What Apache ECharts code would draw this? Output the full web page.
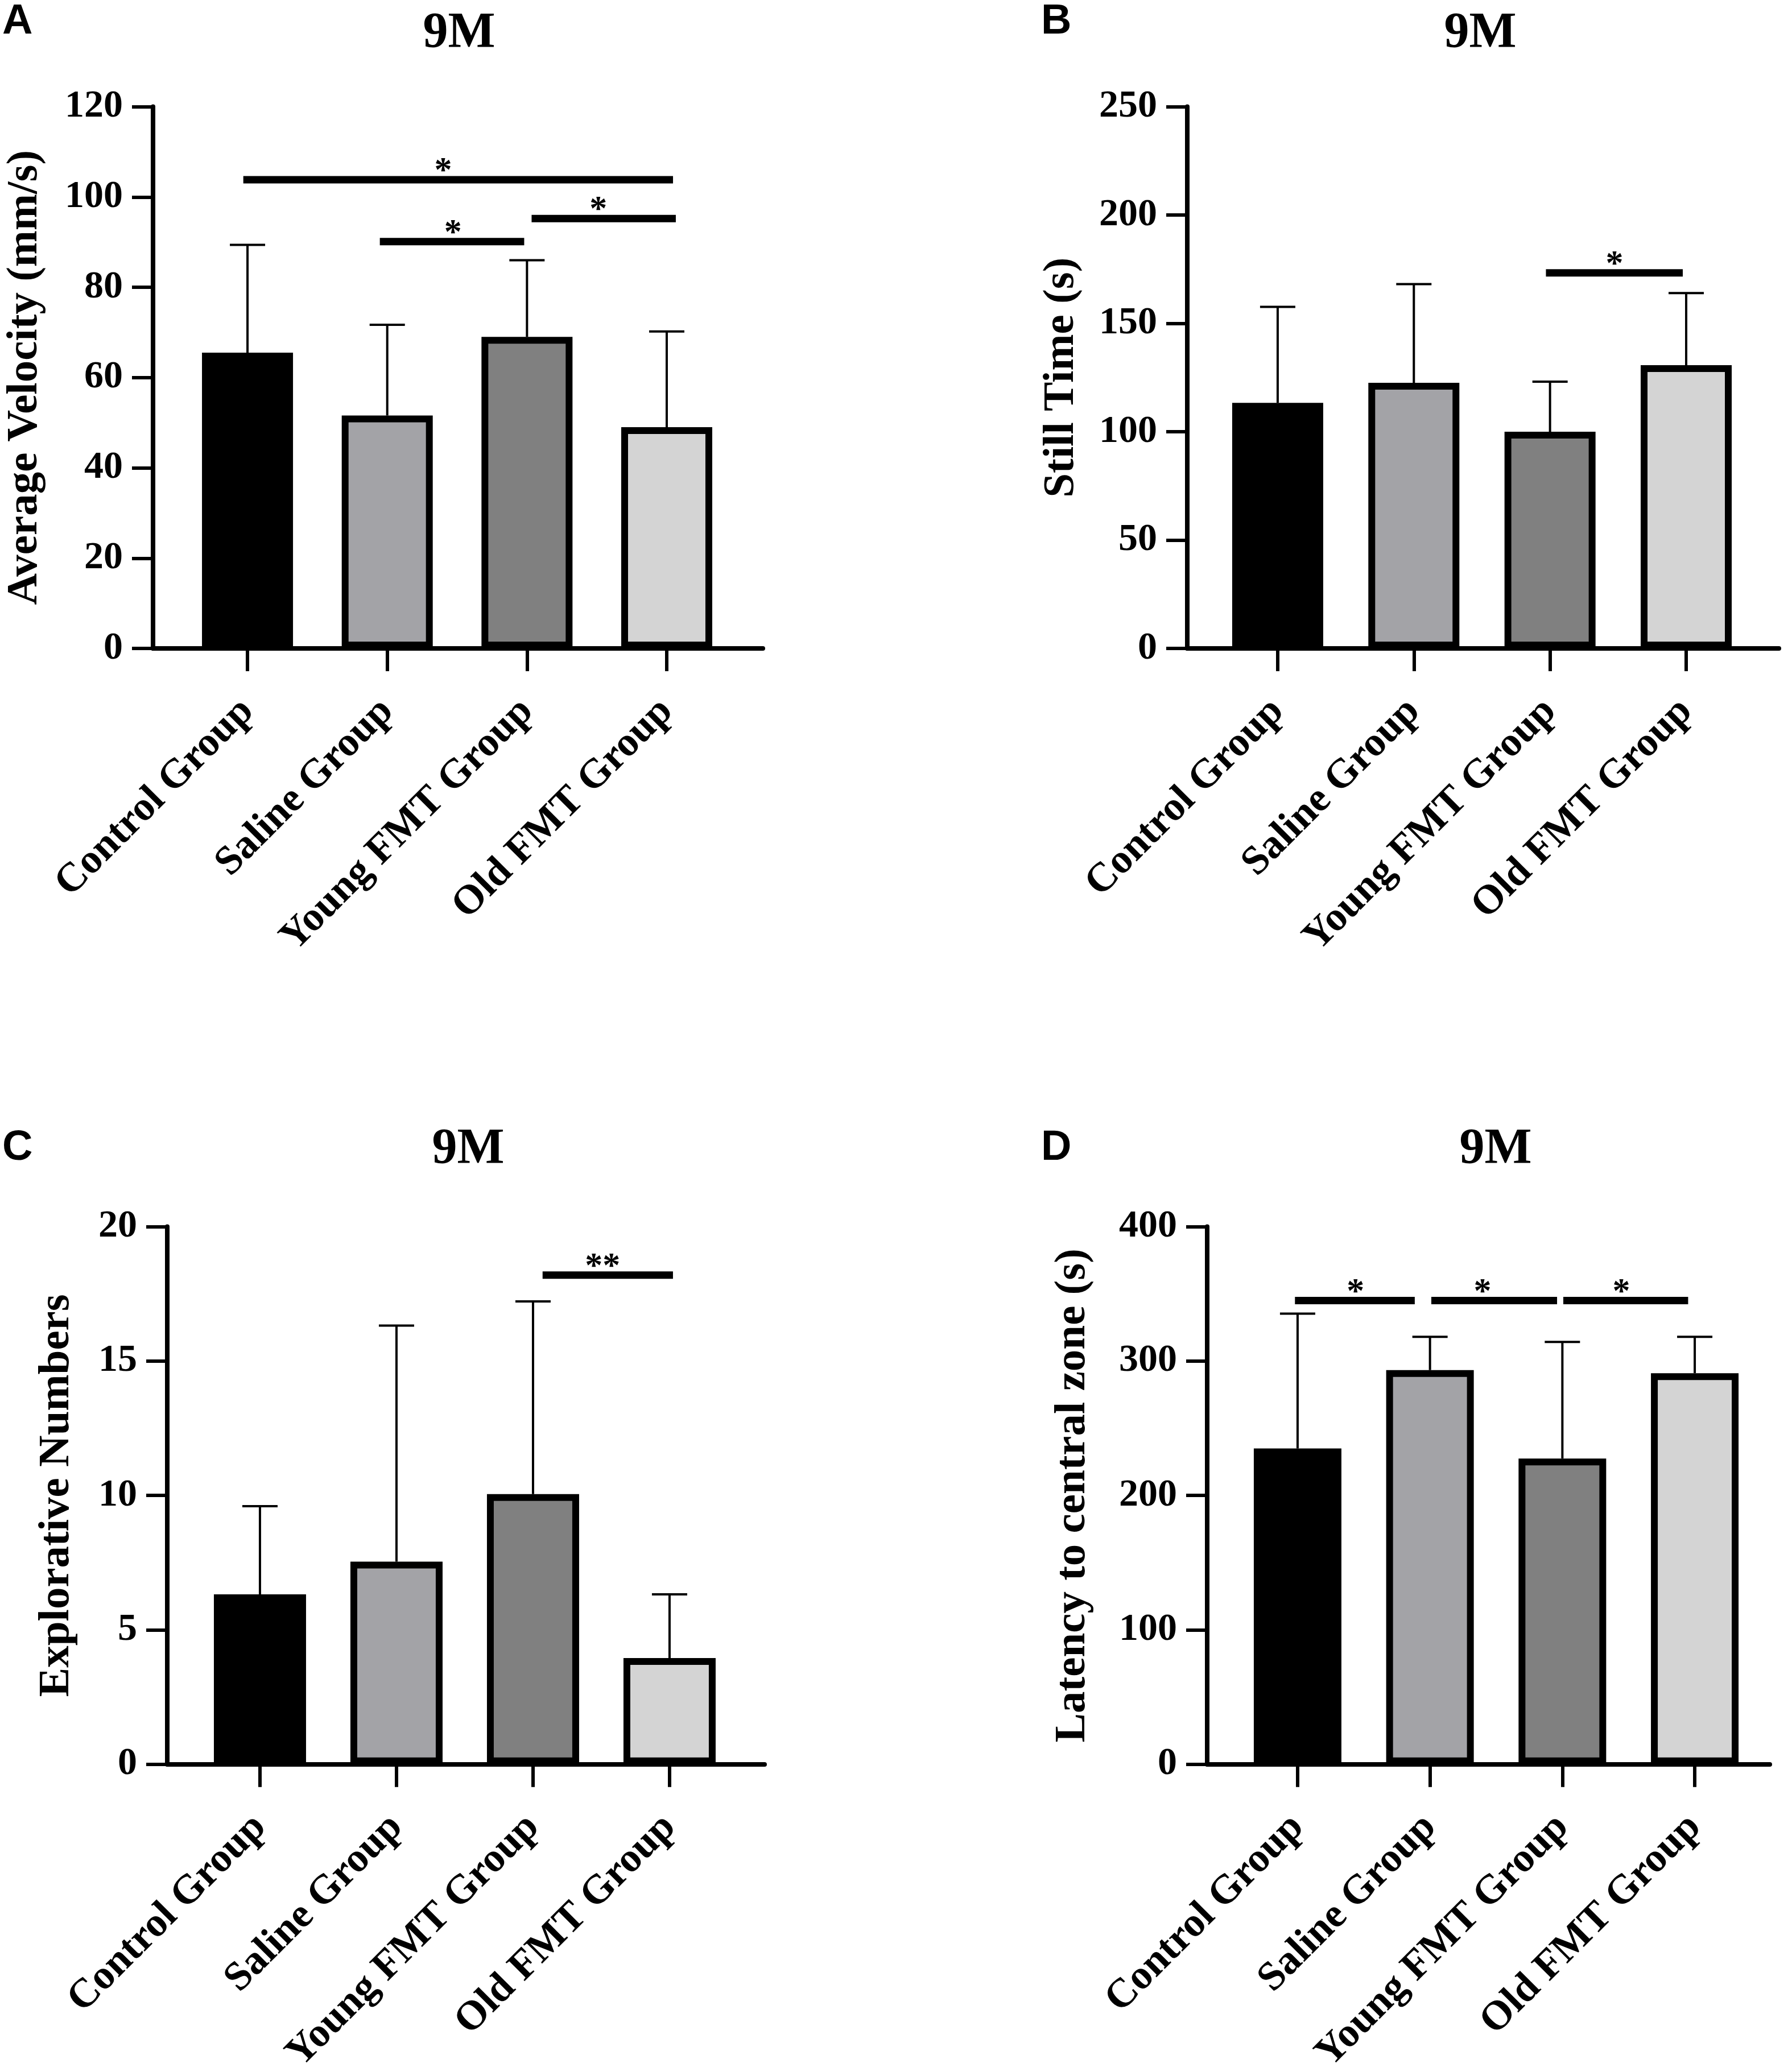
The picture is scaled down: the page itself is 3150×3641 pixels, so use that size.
<!DOCTYPE html>
<html>
<head>
<meta charset="utf-8">
<script src="https://cdn.jsdelivr.net/npm/echarts@6/dist/echarts.min.js"></script>
<style>
  html, body { margin: 0; padding: 0; background: #fff; }
  #chart { width: 3150px; height: 3641px; }
</style>
</head>
<body>
<div id="chart"></div>
<script>
// categories (same four groups in every panel)
var groups = ['Control Group', 'Saline Group', 'Young FMT Group', 'Old FMT Group'];

// A: average velocity (mm/s)
var velocityMean = [65.5, 51.6, 69.0, 49.0];
var velocitySdTop = [89.4, 71.7, 86.0, 70.2];
// B: still time (s)
var stillMean = [113.3, 122.6, 100.0, 130.7];
var stillSdTop = [157.6, 168.1, 123.1, 164.0];
// C: explorative numbers
var exploreMean = [6.32, 7.54, 10.05, 3.95];
var exploreSdTop = [9.60, 16.32, 17.22, 6.32];
// D: latency to central zone (s)
var latencyMean = [235.0, 293.3, 227.5, 291.0];
var latencySdTop = [335.3, 318.1, 314.2, 318.1];

// significance bars: [from, to, height, star position, text] (x in group index units)
var velocitySig = [[-0.03, 3.045, 103.8, 1.40, '*'], [0.947, 1.98, 90.1, 1.47, '*'], [2.033, 3.065, 95.2, 2.51, '*']];
var stillSig = [[1.97, 2.975, 173.3, 2.474, '*']];
var exploreSig = [[2.07, 3.025, 18.2, 2.51, '**']];
var latencySig = [[-0.02, 0.885, 345, 0.438, '*'], [1.01, 1.96, 345, 1.397, '*'], [2.007, 2.95, 345, 2.445, '*']];

// y axis scales: [max, interval]
var velocityAxis = [120, 20];
var stillAxis = [250, 50];
var exploreAxis = [20, 5];
var latencyAxis = [400, 100];

var barColors = ['#000000', '#a3a3a7', '#808080', '#d4d4d4'];
var SERIF = '"Liberation Serif", "Times New Roman", serif';

var panels = [
    {letter: 'A', name: 'Average Velocity (mm/s)', mean: velocityMean, top: velocitySdTop, sig: velocitySig, axis: velocityAxis,
     left: 269, width: 1072, top_: 187.5, height: 952.5, xmin: -0.676, xmax: 3.688, nameGap: 186, barW: 160,
     titleX: 802, titleY: 10, letterX: 4, letterY: 2},
    {letter: 'B', name: 'Still Time (s)', mean: stillMean, top: stillSdTop, sig: stillSig, axis: stillAxis,
     left: 2087, width: 1040, top_: 187.5, height: 952.5, xmin: -0.664, xmax: 3.681, nameGap: 182, barW: 160,
     titleX: 2597, titleY: 10, letterX: 1830, letterY: 2},
    {letter: 'C', name: 'Explorative Numbers', mean: exploreMean, top: exploreSdTop, sig: exploreSig, axis: exploreAxis,
     left: 294, width: 1050, top_: 2156.6, height: 945.2, xmin: -0.679, xmax: 3.696, nameGap: 155, barW: 162,
     titleX: 818, titleY: 1972, letterX: 4, letterY: 1982},
    {letter: 'D', name: 'Latency to central zone (s)', mean: latencyMean, top: latencySdTop, sig: latencySig, axis: latencyAxis,
     left: 2122, width: 989, top_: 2156.6, height: 945.2, xmin: -0.683, xmax: 3.567, nameGap: 197, barW: 154,
     titleX: 2624, titleY: 1972, letterX: 1830, letterY: 1982}
];

function errorBars(params, api) {
    var base = api.coord([api.value(0), api.value(1)]);
    var top = api.coord([api.value(0), api.value(2)]);
    return {
        type: 'group',
        children: [
            {type: 'line', shape: {x1: base[0], y1: base[1], x2: top[0], y2: top[1]}, style: {stroke: '#000', lineWidth: 4}},
            {type: 'line', shape: {x1: top[0] - 31, y1: top[1], x2: top[0] + 31, y2: top[1]}, style: {stroke: '#000', lineWidth: 4}}
        ]
    };
}

function sigBars(sig) {
    return function (params, api) {
        var p0 = api.coord([api.value(0), api.value(2)]);
        var p1 = api.coord([api.value(1), api.value(2)]);
        var ps = api.coord([api.value(3), api.value(2)]);
        return {
            type: 'group',
            children: [
                {type: 'line', shape: {x1: p0[0], y1: p0[1], x2: p1[0], y2: p1[1]}, style: {stroke: '#000', lineWidth: 13}},
                {type: 'text', x: ps[0], y: p0[1] - 14,
                 style: {text: sig[params.dataIndex][4], fill: '#000', font: 'bold 62px ' + SERIF,
                         textAlign: 'center', textVerticalAlign: 'middle'}}
            ]
        };
    };
}

var option = {
    backgroundColor: '#fff',
    animation: false,
    title: [],
    grid: [],
    xAxis: [],
    yAxis: [],
    series: [],
    graphic: []
};

for (var k = 0; k < panels.length; k++) {
    var p = panels[k];
    option.grid.push({left: p.left, top: p.top_, width: p.width, height: p.height, containLabel: false, outerBoundsMode: 'none'});

    option.title.push({
        text: '9M', left: p.titleX, top: p.titleY, textAlign: 'center',
        textStyle: {fontFamily: SERIF, fontWeight: 'bold', fontSize: 88, color: '#000'}
    });
    option.graphic.push({
        type: 'text', left: p.letterX, top: p.letterY,
        style: {text: p.letter, fill: '#000', font: 'bold 74px "Liberation Sans", Arial, sans-serif'}
    });

    option.xAxis.push({
        type: 'value', gridIndex: k, min: p.xmin, max: p.xmax,
        splitLine: {show: false},
        axisLine: {show: true, onZero: false, lineStyle: {color: '#000', width: 8}},
        axisTick: {show: true, customValues: [0, 1, 2, 3], length: 40, lineStyle: {color: '#000', width: 6}},
        axisLabel: {
            customValues: [0, 1, 2, 3], rotate: 45, margin: 100,
            fontFamily: SERIF, fontWeight: 'bold', fontSize: 72, color: '#000',
            formatter: function (v) { return groups[Math.round(v)]; }
        }
    });

    option.yAxis.push({
        type: 'value', gridIndex: k, min: 0, max: p.axis[0], interval: p.axis[1],
        name: p.name, nameLocation: 'middle', nameRotate: 90, nameGap: p.nameGap,
        nameTextStyle: {fontFamily: SERIF, fontWeight: 'bold', fontSize: 77, color: '#000'},
        splitLine: {show: false},
        axisLine: {show: true, onZero: false, lineStyle: {color: '#000', width: 8}},
        axisTick: {show: true, length: 37, lineStyle: {color: '#000', width: 6}},
        axisLabel: {margin: 53, fontFamily: SERIF, fontWeight: 'bold', fontSize: 68, color: '#000'}
    });

    option.series.push({
        type: 'custom', xAxisIndex: k, yAxisIndex: k, z: 1,
        renderItem: errorBars,
        data: groups.map(function (g, i) { return [i, p.mean[i], p.top[i]]; })
    });
    option.series.push({
        type: 'bar', xAxisIndex: k, yAxisIndex: k, z: 2, barWidth: p.barW,
        data: groups.map(function (g, i) {
            return {value: [i, p.mean[i]], itemStyle: {color: barColors[i], borderColor: '#000', borderWidth: 12}};
        })
    });
    option.series.push({
        type: 'custom', xAxisIndex: k, yAxisIndex: k, z: 3,
        renderItem: sigBars(p.sig),
        data: p.sig.map(function (s) { return [s[0], s[1], s[2], s[3]]; })
    });
}

var chart = echarts.init(document.getElementById('chart'));
chart.setOption(option);
</script>
</body>
</html>
